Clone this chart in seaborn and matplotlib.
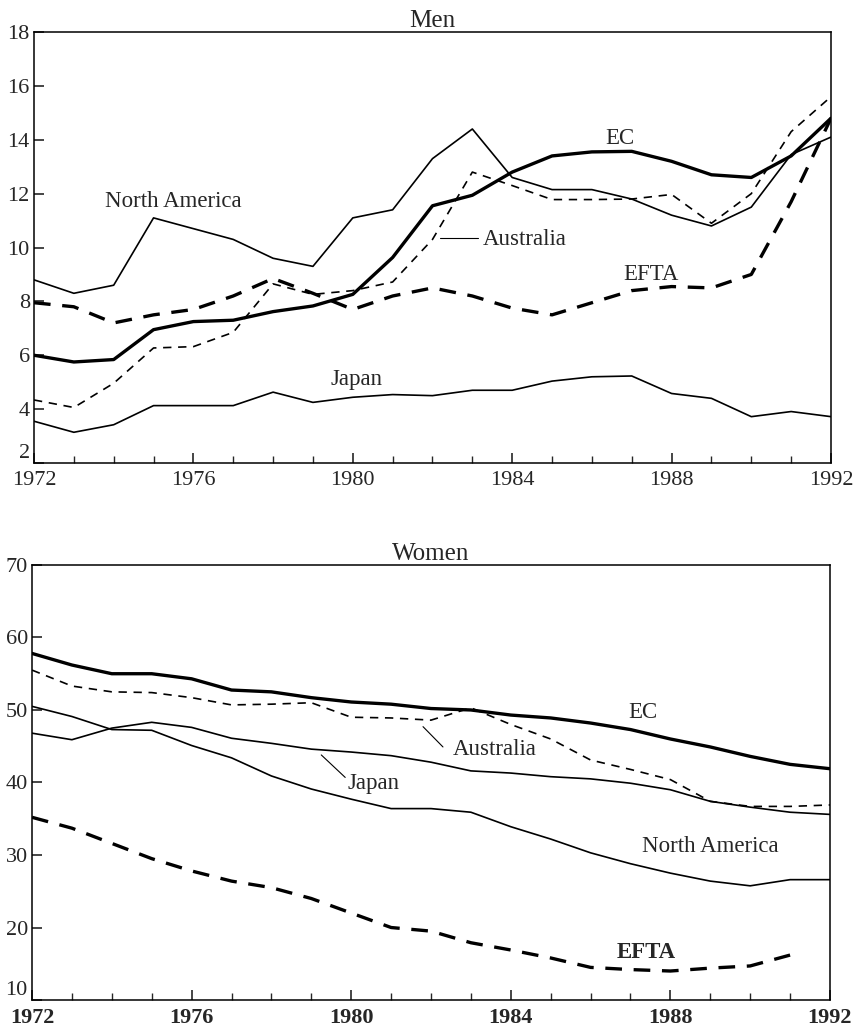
import numpy as np
import pandas as pd
import matplotlib
matplotlib.use("Agg")
import matplotlib.pyplot as plt
import seaborn as sns

years = list(range(1972, 1993))

# ---- Men ----
men_north_america = [8.8, 8.3, 8.6, 11.1, 10.7, 10.3, 9.6, 9.3, 11.1, 11.4, 13.3,
                     14.4, 12.6, 12.15, 12.15, 11.8, 11.2, 10.8, 11.5, 13.45, 14.1]
men_ec = [6.0, 5.75, 5.84, 6.95, 7.25, 7.3, 7.62, 7.83, 8.26, 9.63, 11.55,
          11.94, 12.8, 13.4, 13.55, 13.57, 13.2, 12.7, 12.6, 13.4, 14.8]
men_australia = [4.34, 4.06, 4.96, 6.27, 6.32, 6.85, 8.65, 8.26, 8.4, 8.72, 10.3,
                 12.8, 12.3, 11.78, 11.78, 11.8, 11.97, 10.9, 12.0, 14.3, 15.6]
men_efta = [7.95, 7.8, 7.2, 7.5, 7.7, 8.2, 8.85, 8.3, 7.7, 8.2, 8.5,
            8.2, 7.75, 7.5, 7.95, 8.4, 8.55, 8.5, 9.0, 11.7, 14.8]
men_japan = [3.55, 3.14, 3.42, 4.13, 4.13, 4.13, 4.63, 4.25, 4.44, 4.54, 4.5,
             4.7, 4.7, 5.04, 5.2, 5.23, 4.58, 4.4, 3.72, 3.91, 3.72]

# ---- Women ----
women_ec = [57.8, 56.2, 55.0, 55.0, 54.3, 52.75, 52.5, 51.7, 51.1, 50.8, 50.2,
            50.0, 49.3, 48.9, 48.2, 47.3, 46.0, 44.9, 43.6, 42.5, 41.9]
women_australia = [55.5, 53.3, 52.5, 52.4, 51.7, 50.7, 50.8, 51.0, 49.0, 48.9, 48.6,
                   50.3, 48.0, 46.0, 43.1, 41.8, 40.4, 37.4, 36.7, 36.7, 36.9]
women_japan = [46.8, 45.9, 47.5, 48.3, 47.6, 46.1, 45.4, 44.6, 44.2, 43.7, 42.8,
               41.6, 41.3, 40.8, 40.5, 39.9, 39.0, 37.4, 36.6, 35.9, 35.6]
women_north_america = [50.5, 49.1, 47.3, 47.2, 45.1, 43.4, 40.9, 39.1, 37.7, 36.4, 36.4,
                       35.9, 33.9, 32.2, 30.3, 28.8, 27.5, 26.4, 25.75, 26.6, 26.6]
women_efta = [35.2, 33.7, 31.6, 29.5, 27.8, 26.4, 25.5, 24.0, 22.0, 20.0, 19.5,
              17.9, 16.9, 15.8, 14.5, 14.2, 14.0, 14.4, 14.7, 16.2, np.nan]

men_yticks = [2, 4, 6, 8, 10, 12, 14, 16, 18]
women_yticks = [10, 20, 30, 40, 50, 60, 70]
xtick_labels = [1972, 1976, 1980, 1984, 1988, 1992]

sns.set_style("ticks")
plt.rcParams['font.family'] = ['Liberation Serif', 'DejaVu Serif']
plt.rcParams['axes.linewidth'] = 1.1

fig = plt.figure(figsize=(8.56, 10.30), dpi=100)
ax1 = fig.add_axes([0.0397, 0.5505, 0.9311, 0.4184])
ax2 = fig.add_axes([0.0374, 0.0291, 0.9322, 0.4224])

THICK = 2.4
THIN = 1.2

def draw(ax, vals, lw, dashes=None):
    df = pd.DataFrame({"year": years, "v": vals})
    sns.lineplot(data=df, x="year", y="v", ax=ax, color="black", linewidth=lw,
                 estimator=None, sort=False)
    line = ax.lines[-1]
    line.set_solid_joinstyle("round")
    if dashes is not None:
        line.set_dashes(dashes)

# Men
draw(ax1, men_north_america, THIN)
draw(ax1, men_ec, THICK)
draw(ax1, men_australia, THIN, (5, 4))
draw(ax1, men_efta, THICK, (5, 3.5))
draw(ax1, men_japan, THIN)

# Women
draw(ax2, women_ec, THICK)
draw(ax2, women_australia, THIN, (5, 4))
draw(ax2, women_japan, THIN)
draw(ax2, women_north_america, THIN)
draw(ax2, women_efta, THICK, (5, 3.5))

FS = 16
for ax, yt, ylim in [(ax1, men_yticks, (2, 18)), (ax2, women_yticks, (10, 70))]:
    ax.set_xlim(1972, 1992)
    ax.set_ylim(*ylim)
    ax.set_yticks(yt)
    ax.set_xticks(xtick_labels)
    ax.set_xticks(years, minor=True)
    ax.tick_params(axis='both', which='major', direction='in', length=7, width=1.2,
                   labelsize=FS)
    ax.tick_params(axis='x', which='major', pad=6)
    ax.tick_params(axis='y', which='major', pad=3)
    ax.tick_params(axis='x', which='minor', direction='in', length=5, width=1.0)
    ax.set_xlabel("")
    ax.set_ylabel("")
    for s in ax.spines.values():
        s.set_visible(True)
        s.set_color("black")

ax1.set_title("Men", fontsize=18, pad=2)
ax2.set_title("Women", fontsize=18, pad=2)
for lab in ax2.get_xticklabels():
    lab.set_fontweight("bold")
# lowest y labels sit just above the x axis, as in the original
ax1.get_yticklabels()[0].set_va("bottom")
ax2.get_yticklabels()[0].set_va("bottom")

TF = 16.5
# Men annotations
ax1.text(1975.5, 11.7, "North America", fontsize=TF, ha="center", va="center")
ax1.text(1986.7, 14.05, "EC", fontsize=TF, ha="center", va="center")
ax1.plot([1982.2, 1983.15], [10.35, 10.35], color="black", lw=0.8)
ax1.text(1983.25, 10.3, "Australia", fontsize=TF, ha="left", va="center")
ax1.text(1986.8, 9.0, "EFTA", fontsize=TF, ha="left", va="center")
ax1.text(1980.1, 5.1, "Japan", fontsize=TF, ha="center", va="center")

# Women annotations
ax2.text(1987.3, 49.6, "EC", fontsize=TF, ha="center", va="center")
ax2.plot([1981.8, 1982.3], [47.7, 44.9], color="black", lw=0.8)
ax2.text(1982.55, 44.5, "Australia", fontsize=TF, ha="left", va="center")
ax2.plot([1979.25, 1979.85], [43.8, 40.7], color="black", lw=0.8)
ax2.text(1979.9, 39.8, "Japan", fontsize=TF, ha="left", va="center")
ax2.text(1987.3, 31.2, "North America", fontsize=TF, ha="left", va="center")
ax2.text(1987.4, 16.6, "EFTA", fontsize=TF, ha="center", va="center", fontweight="bold")

fig.savefig("out.png", dpi=100)
